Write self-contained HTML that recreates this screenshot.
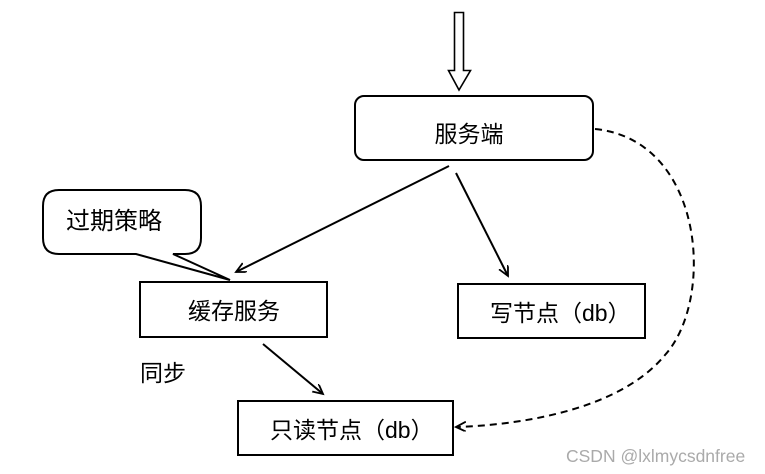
<!DOCTYPE html>
<html><head><meta charset="utf-8"><style>
html,body{margin:0;padding:0;background:#fff;}
svg{display:block}
text{font-family:"Liberation Sans","Noto Sans CJK SC",sans-serif;fill:#000}
</style></head><body>
<svg width="765" height="474" viewBox="0 0 765 474" xmlns="http://www.w3.org/2000/svg">
<defs>
<marker id="a" markerWidth="12" markerHeight="12" refX="10" refY="5" orient="auto" markerUnits="userSpaceOnUse">
<path d="M0,0 L10,5 L0,10" fill="none" stroke="#000" stroke-width="1.8"/>
</marker>
</defs>
<path d="M454.5,12.5 H463.5 V70.5 H470.5 L459,90 L448.5,70.5 H454.5 Z" fill="#fff" stroke="#000" stroke-width="1.6"/>
<rect x="355" y="96" width="238" height="64" rx="9" fill="#fff" stroke="#000" stroke-width="2"/>
<text x="469" y="142" font-size="23" text-anchor="middle">服务端</text>
<path d="M60,190 H185 Q201,190 201,206 V238 Q201,254 185,254 H173 L230,280 L136,254 H59 Q43,254 43,238 V206 Q43,190 59,190 Z" fill="#fff" stroke="#000" stroke-width="2"/>
<text x="66" y="229" font-size="24">过期策略</text>
<rect x="140" y="282" width="187" height="55" fill="#fff" stroke="#000" stroke-width="2"/>
<text x="234" y="319" font-size="23" text-anchor="middle">缓存服务</text>
<rect x="458" y="284" width="187" height="54" fill="#fff" stroke="#000" stroke-width="2"/>
<text x="490" y="321" font-size="23">写节点（db）</text>
<rect x="238" y="401" width="215" height="54" fill="#fff" stroke="#000" stroke-width="2"/>
<text x="270" y="438" font-size="23">只读节点（db）</text>
<text x="140" y="381" font-size="23">同步</text>
<line x1="449" y1="166" x2="236" y2="272" stroke="#000" stroke-width="2" marker-end="url(#a)"/>
<line x1="456" y1="173" x2="508" y2="276" stroke="#000" stroke-width="2" marker-end="url(#a)"/>
<line x1="263" y1="344" x2="323" y2="394" stroke="#000" stroke-width="2" marker-end="url(#a)"/>
<path d="M595,129 C705,140 715,300 665,355 C620,410 520,425 456,427" fill="none" stroke="#000" stroke-width="2" stroke-dasharray="7,5" marker-end="url(#a)"/>
<text x="566" y="462" font-size="17.5" style="fill:#aaa">CSDN @lxlmycsdnfree</text>
</svg>
</body></html>
